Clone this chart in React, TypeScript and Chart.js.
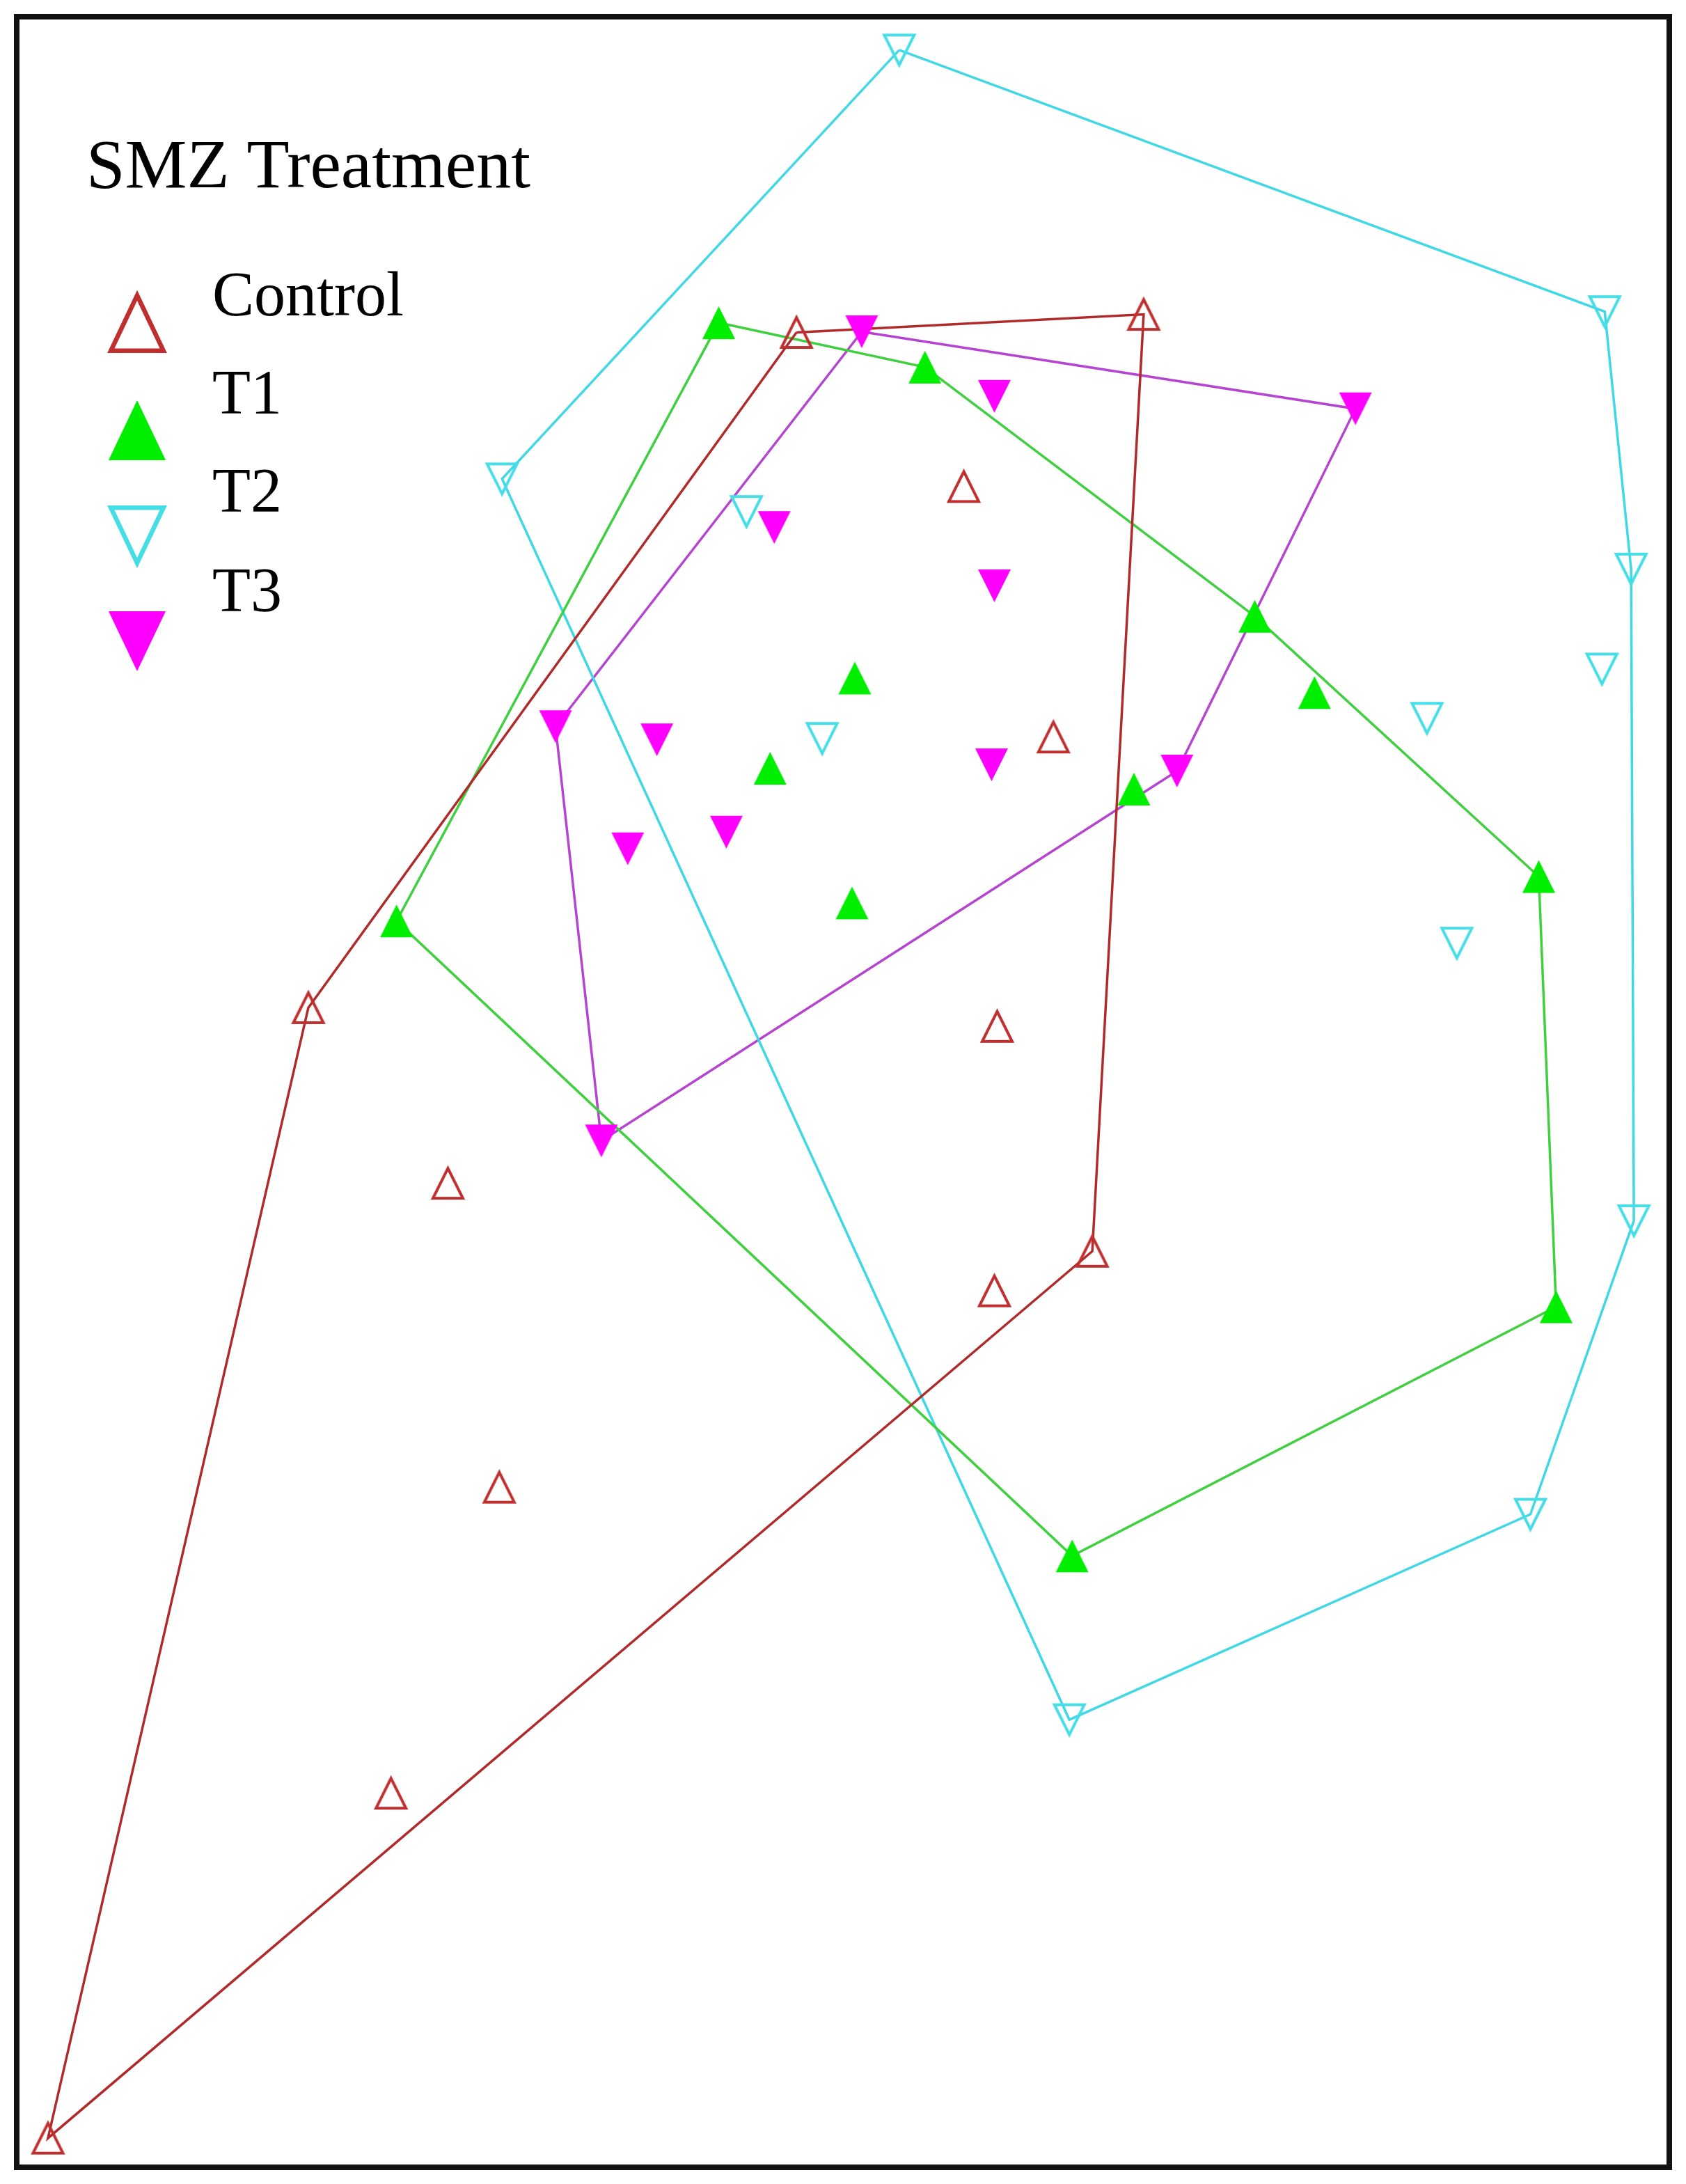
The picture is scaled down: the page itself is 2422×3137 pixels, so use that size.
import React, { useEffect, useRef } from 'react';
import { Chart, registerables } from 'chart.js';

Chart.register(...registerables);

// Ordination scores (reference-pixel units; y grows downward)
const groupLabels = ['Control', 'T1', 'T2', 'T3'];
const legendTitle = 'SMZ Treatment';

const controlX = [1144, 1644, 1570, 66, 441, 1385, 1514, 1433, 642, 1429, 716, 560];
const controlY = [472, 446, 1796, 3074, 1445, 694, 1055, 1472, 1698, 1853, 2136, 2577];
const controlHull = [0, 1, 2, 3, 4];

const t1X = [1032, 1329, 1804, 2213, 2238, 1541, 568, 1228, 1890, 1106, 1630, 1224];
const t1Y = [458, 522, 881, 1256, 1876, 2235, 1320, 970, 991, 1100, 1130, 1294];
const t1Hull = [0, 1, 2, 3, 4, 5, 6];

const t2X = [1292, 2308, 2346, 2350, 2201, 1537, 720, 1072, 1181, 2304, 2052, 2095];
const t2Y = [65, 442, 813, 1752, 2175, 2471, 683, 730, 1057, 957, 1028, 1352];
const t2Hull = [0, 1, 2, 3, 4, 5, 6];

const t3X = [1238, 1949, 1692, 863, 797, 1429, 1112, 1429, 943, 1425, 901, 1043];
const t3Y = [471, 582, 1104, 1637, 1040, 564, 753, 837, 1059, 1095, 1216, 1192];
const t3Hull = [0, 1, 2, 3, 4];

const axisXRange = [21, 2401];
const axisYRange = [17, 3116];

type Style = { up: boolean; filled: boolean; marker: string; line: string };
const groupStyles: Style[] = [
  { up: true, filled: false, marker: '#bf2f2f', line: '#b02a2a' },
  { up: true, filled: true, marker: '#00ee00', line: '#3fcf3f' },
  { up: false, filled: false, marker: '#45dde6', line: '#40d8e4' },
  { up: false, filled: true, marker: '#ff00ff', line: '#b545d0' },
];

function makeMarker(s: Style, w: number, h: number, lw: number): HTMLCanvasElement {
  const pad = Math.ceil(lw) + 4;
  const c = document.createElement('canvas');
  c.width = w + 2 * pad;
  c.height = h + 2 * pad;
  const ctx = c.getContext('2d')!;
  const inset = s.filled ? 0 : lw / 2;
  const x0 = pad + inset;
  const x1 = pad + w - inset;
  const xm = pad + w / 2;
  const yt = pad + inset;
  const yb = pad + h - inset;
  ctx.beginPath();
  if (s.up) {
    ctx.moveTo(xm, yt);
    ctx.lineTo(x1, yb);
    ctx.lineTo(x0, yb);
  } else {
    ctx.moveTo(x0, yt);
    ctx.lineTo(x1, yt);
    ctx.lineTo(xm, yb);
  }
  ctx.closePath();
  if (s.filled) {
    ctx.fillStyle = s.marker;
    ctx.fill();
  } else {
    ctx.strokeStyle = s.marker;
    ctx.lineWidth = lw;
    ctx.lineJoin = 'miter';
    ctx.stroke();
  }
  return c;
}

export default function App() {
  const ref = useRef<HTMLCanvasElement | null>(null);

  useEffect(() => {
    const canvas = ref.current;
    if (!canvas) return;
    const groups = [
      { xs: controlX, ys: controlY, hull: controlHull },
      { xs: t1X, ys: t1Y, hull: t1Hull },
      { xs: t2X, ys: t2Y, hull: t2Hull },
      { xs: t3X, ys: t3Y, hull: t3Hull },
    ];
    const plotMarkers = groupStyles.map((s) => makeMarker(s, 47, 47, 4));
    const legendMarkers = groupStyles.map((s) => makeMarker(s, 82, 86, 6.5));

    const pointSets = groups.map((g, gi) => ({
      label: groupLabels[gi],
      data: g.xs.map((x, i) => ({ x, y: g.ys[i] })),
      pointStyle: plotMarkers[gi] as any,
      pointRadius: 23,
      showLine: false,
      clip: false as any,
    }));
    const hullSets = groups.map((g, gi) => ({
      label: groupLabels[gi] + ' hull',
      data: g.hull.concat([g.hull[0]]).map((i) => ({ x: g.xs[i], y: g.ys[i] })),
      showLine: true,
      pointRadius: 0,
      borderColor: groupStyles[gi].line,
      borderWidth: 3.5,
      fill: false,
      tension: 0,
      clip: false as any,
    }));

    const framePlugin = {
      id: 'frameAndLegend',
      afterDraw(chart: any) {
        const ctx = chart.ctx as CanvasRenderingContext2D;
        const a = chart.chartArea;
        ctx.save();
        ctx.strokeStyle = '#111111';
        ctx.lineWidth = 8;
        ctx.strokeRect(a.left, a.top, a.right - a.left, a.bottom - a.top);
        ctx.fillStyle = '#000000';
        ctx.textBaseline = 'alphabetic';
        ctx.textAlign = 'left';
        ctx.font = '100px "Liberation Serif", "Times New Roman", serif';
        ctx.fillText(legendTitle, 124, 269);
        ctx.font = '90px "Liberation Serif", "Times New Roman", serif';
        const baselines = [453, 594, 735, 878];
        const markerCY = [464, 618, 769, 921];
        for (let i = 0; i < 4; i++) {
          const lbl = chart.data.datasets[i].label;
          ctx.fillText(lbl, 305, baselines[i]);
          const m = legendMarkers[i];
          ctx.drawImage(m, 197 - m.width / 2, markerCY[i] - m.height / 2);
        }
        ctx.restore();
      },
    };

    const chart = new Chart(canvas, {
      type: 'scatter',
      data: { datasets: [...pointSets, ...hullSets] as any },
      options: {
        animation: false,
        responsive: false,
        maintainAspectRatio: false,
        devicePixelRatio: 1,
        events: [],
        layout: { padding: { left: 21, right: 21, top: 17, bottom: 21 } },
        plugins: { legend: { display: false }, tooltip: { enabled: false } },
        scales: {
          x: { type: 'linear', min: axisXRange[0], max: axisXRange[1], display: false },
          y: { type: 'linear', min: axisYRange[0], max: axisYRange[1], reverse: true, display: false },
        },
      },
      plugins: [framePlugin],
    });
    return () => chart.destroy();
  }, []);

  return (
    <div style={{ position: 'absolute', left: 0, top: 0, width: 2422, height: 3137, background: '#ffffff' }}>
      <canvas ref={ref} width={2422} height={3137} style={{ width: 2422, height: 3137, display: 'block' }} />
    </div>
  );
}
